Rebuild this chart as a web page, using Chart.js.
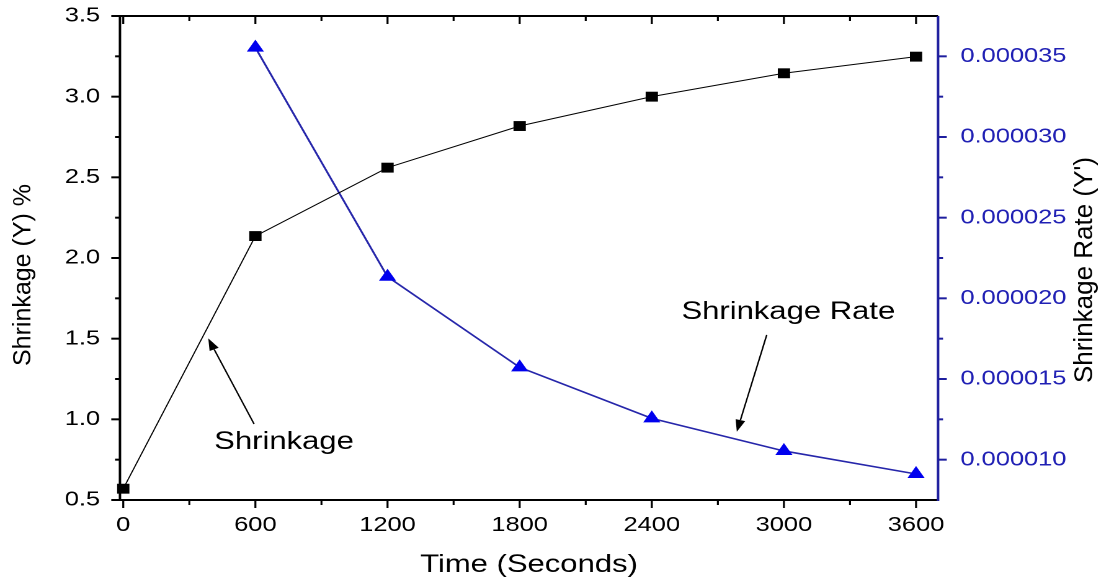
<!DOCTYPE html>
<html>
<head>
<meta charset="utf-8">
<script src="https://cdn.jsdelivr.net/npm/chart.js@4"></script>
<style>
  html, body { margin: 0; padding: 0; background: #fff; overflow: hidden; }
  /* the original figure is stretched sideways, so the whole canvas is too */
  #wrap { width: 894px; height: 587px; transform: scaleX(1.2405); transform-origin: 0 0; }
</style>
</head>
<body>
<div id="wrap"><canvas id="chart" width="894" height="587" style="width:894px;height:587px"></canvas></div>
<script>
const timeSec = [0, 600, 1200, 1800, 2400, 3000, 3600];
const shrinkagePct = [0.57, 2.136, 2.56, 2.818, 3.0, 3.145, 3.248];
const shrinkageRate = [null, 0.00003554, 0.00002134, 0.00001572, 0.00001256, 0.00001054, 0.00000911];

const xTicks = [0, 600, 1200, 1800, 2400, 3000, 3600];
const yTicks = [0.5, 1.0, 1.5, 2.0, 2.5, 3.0, 3.5];
const rateTicks = [0.00001, 0.000015, 0.00002, 0.000025, 0.00003, 0.000035];

const notes = [
    { text: 'Shrinkage', x: 730, y: 0.86, fromX: 594, fromY: 0.971, toX: 386, toY: 1.502 },
    { text: 'Shrinkage Rate', x: 3020, y: 1.665, fromX: 2922, fromY: 1.523, toX: 2786, toY: 0.923 },
];

const W = 894;
const stretch = 1.2405;
const plotLeft = 96.7;
const plotRight = 756.2;
const rateAxisColor = '#1e1e9e';
const rateLabelColor = '#2020b4';
const fontFamily = "'Liberation Sans', Arial, sans-serif";

Chart.defaults.font.family = fontFamily;
Chart.defaults.color = '#000';

function seg(ctx, x0, y0, x1, y1) {
    ctx.beginPath();
    ctx.moveTo(x0, y0);
    ctx.lineTo(x1, y1);
    ctx.stroke();
}

function mids(arr) {
    return arr.slice(1).map((v, i) => (v + arr[i]) / 2);
}

function arrow(ctx, x0, y0, x1, y1) {
    const ang = Math.atan2(y1 - y0, x1 - x0);
    const len = 12, half = 4;
    const bx = x1 - Math.cos(ang) * len, by = y1 - Math.sin(ang) * len;
    ctx.lineWidth = 1.2;
    seg(ctx, x0, y0, bx, by);
    ctx.beginPath();
    ctx.moveTo(x1, y1);
    ctx.lineTo(bx + Math.sin(ang) * half, by - Math.cos(ang) * half);
    ctx.lineTo(bx - Math.sin(ang) * half, by + Math.cos(ang) * half);
    ctx.closePath();
    ctx.fill();
}

// vertical titles are not stretched in the original, so undo the stretch here
function upTitle(ctx, text, x, y, size) {
    ctx.save();
    ctx.translate(x, y);
    ctx.scale(1 / stretch, 1);
    ctx.rotate(-Math.PI / 2);
    ctx.font = size + 'px ' + fontFamily;
    ctx.fillText(text, 0, 0);
    ctx.restore();
}

const axesFrame = {
    id: 'axesFrame',
    afterDraw(chart) {
        const { ctx, chartArea: a } = chart;
        const sx = chart.scales.x, sy = chart.scales.y, sr = chart.scales.y1;
        ctx.save();
        ctx.lineCap = 'butt';

        // black frame: left, bottom, top
        ctx.strokeStyle = '#000';
        ctx.lineWidth = 2;
        seg(ctx, a.left, a.top - 1, a.left, a.bottom + 1);
        seg(ctx, a.left - 1, a.bottom, a.right, a.bottom);
        seg(ctx, a.left - 1, a.top, a.right, a.top);

        ctx.lineWidth = 1.6;
        xTicks.forEach(v => {
            const p = sx.getPixelForValue(v);
            seg(ctx, p, a.bottom, p, a.bottom + 8);
            seg(ctx, p, a.top, p, a.top + 8);
        });
        mids(xTicks).forEach(v => {
            const p = sx.getPixelForValue(v);
            seg(ctx, p, a.bottom, p, a.bottom + 5);
            seg(ctx, p, a.top, p, a.top + 5);
        });
        ctx.lineWidth = 2;
        yTicks.forEach(v => {
            const p = sy.getPixelForValue(v);
            seg(ctx, a.left - 7, p, a.left, p);
        });
        mids(yTicks).forEach(v => {
            const p = sy.getPixelForValue(v);
            seg(ctx, a.left - 4, p, a.left, p);
        });

        // blue right axis
        ctx.strokeStyle = rateAxisColor;
        ctx.lineWidth = 2;
        seg(ctx, a.right, a.top, a.right, a.bottom + 1);
        rateTicks.forEach(v => {
            const p = sr.getPixelForValue(v);
            seg(ctx, a.right, p, a.right + 7, p);
        });
        mids(rateTicks).forEach(v => {
            const p = sr.getPixelForValue(v);
            seg(ctx, a.right, p, a.right + 4, p);
        });

        ctx.fillStyle = '#000';
        ctx.textAlign = 'center';
        ctx.textBaseline = 'middle';
        upTitle(ctx, 'Shrinkage (Y) %', 18.9, 275, 25);
        upTitle(ctx, "Shrinkage Rate (Y')", 874.6, 270, 26);

        // labels with arrows
        ctx.font = '25px ' + fontFamily;
        ctx.strokeStyle = '#000';
        notes.forEach(n => {
            ctx.fillText(n.text, sx.getPixelForValue(n.x), sy.getPixelForValue(n.y));
            arrow(ctx, sx.getPixelForValue(n.fromX), sy.getPixelForValue(n.fromY),
                sx.getPixelForValue(n.toX), sy.getPixelForValue(n.toY));
        });
        ctx.restore();
    }
};

function noPad(s) {
    s.paddingTop = 0;
    s.paddingBottom = 0;
    s.paddingLeft = 0;
    s.paddingRight = 0;
}

const shrinkPoints = timeSec.map((t, i) => ({ x: t, y: shrinkagePct[i] }));
const ratePoints = timeSec.map((t, i) => ({ x: t, y: shrinkageRate[i] })).filter(p => p.y !== null);

new Chart(document.getElementById('chart').getContext('2d'), {
    type: 'line',
    data: {
        datasets: [{
            label: 'Shrinkage',
            data: shrinkPoints,
            yAxisID: 'y',
            borderColor: '#000',
            borderWidth: 1,
            pointStyle: 'rect',
            pointRadius: 7,
            pointBackgroundColor: '#000',
            pointBorderWidth: 0,
            tension: 0,
            clip: false,
        }, {
            label: 'Shrinkage Rate',
            data: ratePoints,
            yAxisID: 'y1',
            borderColor: '#2626aa',
            borderWidth: 1.6,
            pointStyle: 'triangle',
            pointRadius: 8,
            pointBackgroundColor: '#0000ee',
            pointBorderColor: '#0000ee',
            pointBorderWidth: 0,
            tension: 0,
            clip: false,
        }],
    },
    options: {
        responsive: false,
        devicePixelRatio: 2,
        animation: false,
        layout: { padding: { top: 16, left: 0, right: 0, bottom: 0 } },
        plugins: { legend: { display: false }, tooltip: { enabled: false } },
        scales: {
            x: {
                type: 'linear',
                position: 'bottom',
                min: -15,
                max: 3700,
                afterBuildTicks: s => { s.ticks = xTicks.map(v => ({ value: v })); },
                afterFit: s => { s.height = 87; noPad(s); },
                grid: { display: false, drawTicks: false },
                border: { display: false },
                ticks: { padding: 13, autoSkip: false, maxRotation: 0, font: { size: 20.5 }, callback: v => String(v) },
                title: { display: true, text: 'Time (Seconds)', font: { size: 25 }, padding: { top: 0, bottom: 7 } },
            },
            y: {
                position: 'left',
                min: 0.5,
                max: 3.5,
                afterBuildTicks: s => { s.ticks = yTicks.map(v => ({ value: v })); },
                afterFit: s => { s.width = plotLeft; noPad(s); },
                grid: { display: false, drawTicks: false },
                border: { display: false },
                ticks: { padding: 16, font: { size: 20.5 }, callback: v => v.toFixed(1) },
            },
            y1: {
                position: 'right',
                min: 0.0000075,
                max: 0.0000375,
                afterBuildTicks: s => { s.ticks = rateTicks.map(v => ({ value: v })); },
                afterFit: s => { s.width = W - plotRight; noPad(s); },
                grid: { display: false, drawTicks: false },
                border: { display: false },
                ticks: { padding: 18, color: rateLabelColor, font: { size: 20.5 }, callback: v => v.toFixed(6) },
            },
        },
    },
    plugins: [axesFrame],
});
</script>
</body>
</html>
